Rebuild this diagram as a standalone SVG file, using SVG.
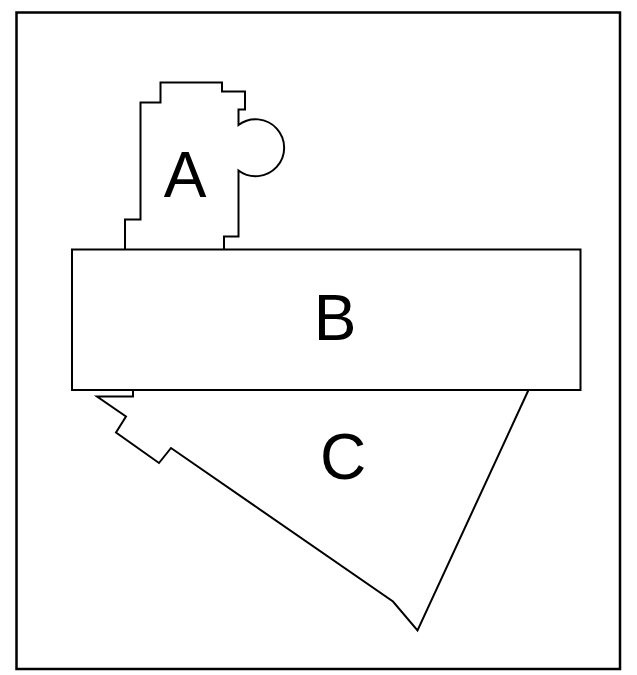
<svg xmlns="http://www.w3.org/2000/svg" width="637" height="675" viewBox="0 0 637 675">
<style>
.shape{fill:#fff;stroke:#000;stroke-width:2;stroke-linejoin:miter}
.lbl{font-family:"Liberation Sans",Arial,sans-serif;font-size:64px;fill:#000;text-anchor:middle}
</style>
<rect x="0" y="0" width="637" height="675" fill="#fff"/>
<rect x="16.5" y="12.5" width="603.5" height="656.5" fill="none" stroke="#000" stroke-width="2.5"/>
<g id="nodeC">
<path class="shape" d="M133,390 L133,396.5 L97,396.5 L126,416.5 L116,432.5 L159,463 L171,448 L393,601.5 L417.5,630.5 L528.5,390"/>
<text class="lbl" x="343" y="479">C</text>
</g>
<g id="nodeA">
<path class="shape" d="M125,250 L125,219.5 L140.5,219.5 L140.5,102.5 L160.5,102.5 L160.5,82.5 L222,82.5 L222,91.5 L245,91.5 L245,109.5 L238.5,109.5 L238.5,125 A28.5,28.5 0 1 1 238.5,170.5 L238.5,236.5 L224,236.5 L224,250"/>
<text class="lbl" x="185" y="197">A</text>
</g>
<g id="nodeB">
<rect class="shape" x="72" y="249.5" width="508.5" height="140.5"/>
<text class="lbl" x="335" y="340">B</text>
</g>
<g id="connectors"></g>
</svg>
